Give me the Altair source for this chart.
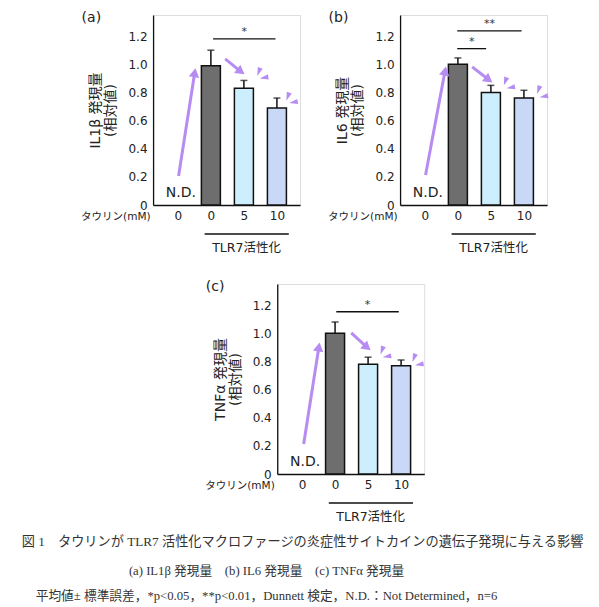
import math
import altair as alt
import pandas as pd

# --- data ---
cat_x = [0, 1, 2, 3]
cat_labels = ["0", "0", "5", "10"]
bar_colors = [None, "#6e6e6e", "#cdeefc", "#c9d8f7"]

il1b_mean = [None, 0.99, 0.83, 0.69]
il1b_sem = [None, 0.11, 0.055, 0.07]
il6_mean = [None, 1.0, 0.80, 0.76]
il6_sem = [None, 0.045, 0.05, 0.055]
tnfa_mean = [None, 1.0, 0.78, 0.77]
tnfa_sem = [None, 0.08, 0.05, 0.04]

y_ticks = [0, 0.2, 0.4, 0.6, 0.8, 1.0, 1.2]

FONT = "DejaVu Sans, Noto Sans CJK JP"
SERIF = "Liberation Serif, Noto Sans CJK JP"
PURPLE = "#b68cf2"
W, H = 147, 190
XDOM = [-0.6, 3.55]
YDOM = [0, 1.35]
PX_X = W / (XDOM[1] - XDOM[0])
PX_Y = H / (YDOM[1] - YDOM[0])

WEDGE = "M0,1L-0.6,-1L0.6,-1Z"

XS = alt.Scale(domain=XDOM, nice=False, zero=False)
YS = alt.Scale(domain=YDOM, nice=False)
XAX = alt.Axis(values=cat_x,
               labelExpr="[" + ",".join("'%s'" % s for s in cat_labels) + "][datum.value]",
               ticks=False, grid=False, domainColor="#111", domainWidth=1.3,
               labelFont=FONT, labelFontSize=12, labelColor="#222", labelPadding=5,
               labelOverlap=False,
               title="タウリン(mM)", titleFont=FONT, titleFontSize=10.5,
               titleFontWeight="normal", titleColor="#222",
               titleX=-3, titleY=11, titleAlign="right", titleBaseline="middle")


def head_angle(x, y, x2, y2):
    dx = (x2 - x) * PX_X
    dy = (y2 - y) * PX_Y
    return math.degrees(math.atan2(dx, dy)) % 360


def panel(letter, ytitle, means, sems, sig, arrows, sparkles):
    yax = alt.Axis(values=y_ticks,
                   labelExpr="datum.value == 0 ? '0' : format(datum.value, '.1f')",
                   ticks=False, grid=False, domainColor="#111", domainWidth=1.3,
                   labelFont=FONT, labelFontSize=12, labelColor="#222", labelPadding=6,
                   labelOverlap=False,
                   title=ytitle, titleFont=FONT, titleFontSize=14,
                   titleFontWeight="normal", titleColor="#222", titlePadding=10,
                   titleLineHeight=15)

    def qx(f):
        return alt.X(f, scale=XS, axis=XAX)

    def qy(f):
        return alt.Y(f, scale=YS, axis=yax)

    bars = pd.DataFrame({"x": cat_x, "mean": means, "sem": sems, "fill": bar_colors}).dropna()
    bars["top"] = bars["mean"] + bars["sem"]

    bar = alt.Chart(bars).mark_bar(width=19, stroke="#111", strokeWidth=1.5).encode(
        x=qx("x:Q"), y=qy("mean:Q"), color=alt.Color("fill:N", scale=None))
    err = alt.Chart(bars).mark_rule(color="#111", strokeWidth=1.5).encode(
        x=qx("x:Q"), y=qy("mean:Q"), y2="top:Q")
    cap = alt.Chart(bars).mark_point(shape="stroke", size=49, color="#111", strokeWidth=1.5).encode(
        x=qx("x:Q"), y=qy("top:Q"))

    nd = alt.Chart(pd.DataFrame({"x": [0], "y": [0], "t": ["N.D."]})).mark_text(
        font=FONT, fontSize=14, color="#222", baseline="bottom", dx=3, dy=-5).encode(
        x=qx("x:Q"), y=qy("y:Q"), text="t:N")

    sig_df = pd.DataFrame(sig, columns=["x", "x2", "y", "t"])
    sig_df["xm"] = (sig_df["x"] + sig_df["x2"]) / 2
    sig_rule = alt.Chart(sig_df).mark_rule(color="#111", strokeWidth=1.3).encode(
        x=qx("x:Q"), x2="x2:Q", y=qy("y:Q"))
    sig_txt = alt.Chart(sig_df).mark_text(font=FONT, fontSize=11, color="#333", baseline="bottom", dy=-2).encode(
        x=qx("xm:Q"), y=qy("y:Q"), text="t:N")

    arr_df = pd.DataFrame(arrows, columns=["x", "y", "x2", "y2"])
    arr_df["ang"] = [head_angle(*r) for r in arrows]
    arr_line = alt.Chart(arr_df).mark_rule(color=PURPLE, strokeWidth=3).encode(
        x=qx("x:Q"), y=qy("y:Q"), x2="x2:Q", y2="y2:Q")
    arr_head = alt.Chart(arr_df).mark_point(shape="triangle-up", filled=True, size=110,
                                            color=PURPLE, opacity=1).encode(
        x=qx("x2:Q"), y=qy("y2:Q"), angle=alt.Angle("ang:Q", scale=None))

    sp_df = pd.DataFrame(sparkles, columns=["x", "y", "ang"])
    spark = alt.Chart(sp_df).mark_point(shape=WEDGE, filled=True, size=75, color=PURPLE, opacity=1).encode(
        x=qx("x:Q"), y=qy("y:Q"), angle=alt.Angle("ang:Q", scale=None))

    grp = pd.DataFrame({"x": [0.81], "x2": [3.36], "xm": [2.08], "t": ["TLR7活性化"]})
    grp_rule = alt.Chart(grp).mark_rule(color="#111", strokeWidth=1.5).encode(
        x=qx("x:Q"), x2="x2:Q", y=alt.value(H + 29))
    grp_txt = alt.Chart(grp).mark_text(font=FONT, fontSize=12.5, color="#222", baseline="middle").encode(
        x=qx("xm:Q"), y=alt.value(H + 43), text="t:N")

    return alt.layer(bar, err, cap, nd, sig_rule, sig_txt, arr_line, arr_head, spark,
                     grp_rule, grp_txt).properties(
        width=W, height=H,
        title=alt.TitleParams(letter, anchor="start", frame="bounds", font=FONT, fontSize=14,
                              fontWeight="normal", color="#222", offset=-10, dx=1))


pa = panel("(a)", ["IL1β 発現量", "(相対値)"], il1b_mean, il1b_sem,
           [(1.066, 2.957, 1.18, "*")],
           [(0.021, 0.206, 0.51, 0.94), (1.433, 1.038, 1.907, 0.948)],
           [(2.45, 0.945, 20), (2.61, 0.905, 80), (3.33, 0.77, 20), (3.5, 0.73, 80)])
pb = panel("(b)", ["IL6 発現量", "(相対値)"], il6_mean, il6_sem,
           [(0.98, 1.856, 1.111, "*"), (0.98, 2.93, 1.237, "**")],
           [(0.021, 0.213, 0.611, 0.952), (1.433, 0.981, 1.935, 0.89)],
           [(2.435, 0.878, 20), (2.6, 0.835, 80), (3.44, 0.817, 20), (3.6, 0.771, 80)])
pc = panel("(c)", ["TNFα 発現量", "(相対値)"], tnfa_mean, tnfa_sem,
           [(1.037, 2.93, 1.153, "*")],
           [(0.049, 0.213, 0.51, 0.903), (1.49, 1.002, 1.97, 0.90)],
           [(2.42, 0.878, 20), (2.57, 0.835, 80), (3.39, 0.824, 20), (3.55, 0.778, 80)])

caption1 = alt.TitleParams(
    "図 1　タウリンが TLR7 活性化マクロファージの炎症性サイトカインの遺伝子発現に与える影響",
    orient="bottom", anchor="middle", font=SERIF, fontSize=13.2, fontWeight="normal", color="#333",
    offset=12, dx=-12)
caption2 = alt.TitleParams(
    ["(a) IL1β 発現量　(b) IL6 発現量　(c) TNFα 発現量",
     "平均値± 標準誤差，*p<0.05，**p<0.01，Dunnett 検定，N.D.：Not Determined，n=6"],
    orient="bottom", anchor="middle", font=SERIF, fontSize=12.7, fontWeight="normal", color="#333",
    lineHeight=25, offset=17, dx=-36)

body = alt.vconcat(
    alt.hconcat(pa, pb, spacing=26),
    pc, spacing=24, center=True
).properties(title=caption1)

chart = alt.vconcat(body).properties(
    title=caption2,
    padding={"left": 13, "top": 2, "right": 5, "bottom": 5}
).configure_view(strokeWidth=0).configure_axis(labelOverlap=False).configure(background="#ffffff")

chart.save("out.html", embed_options={"renderer": "svg", "actions": False})
